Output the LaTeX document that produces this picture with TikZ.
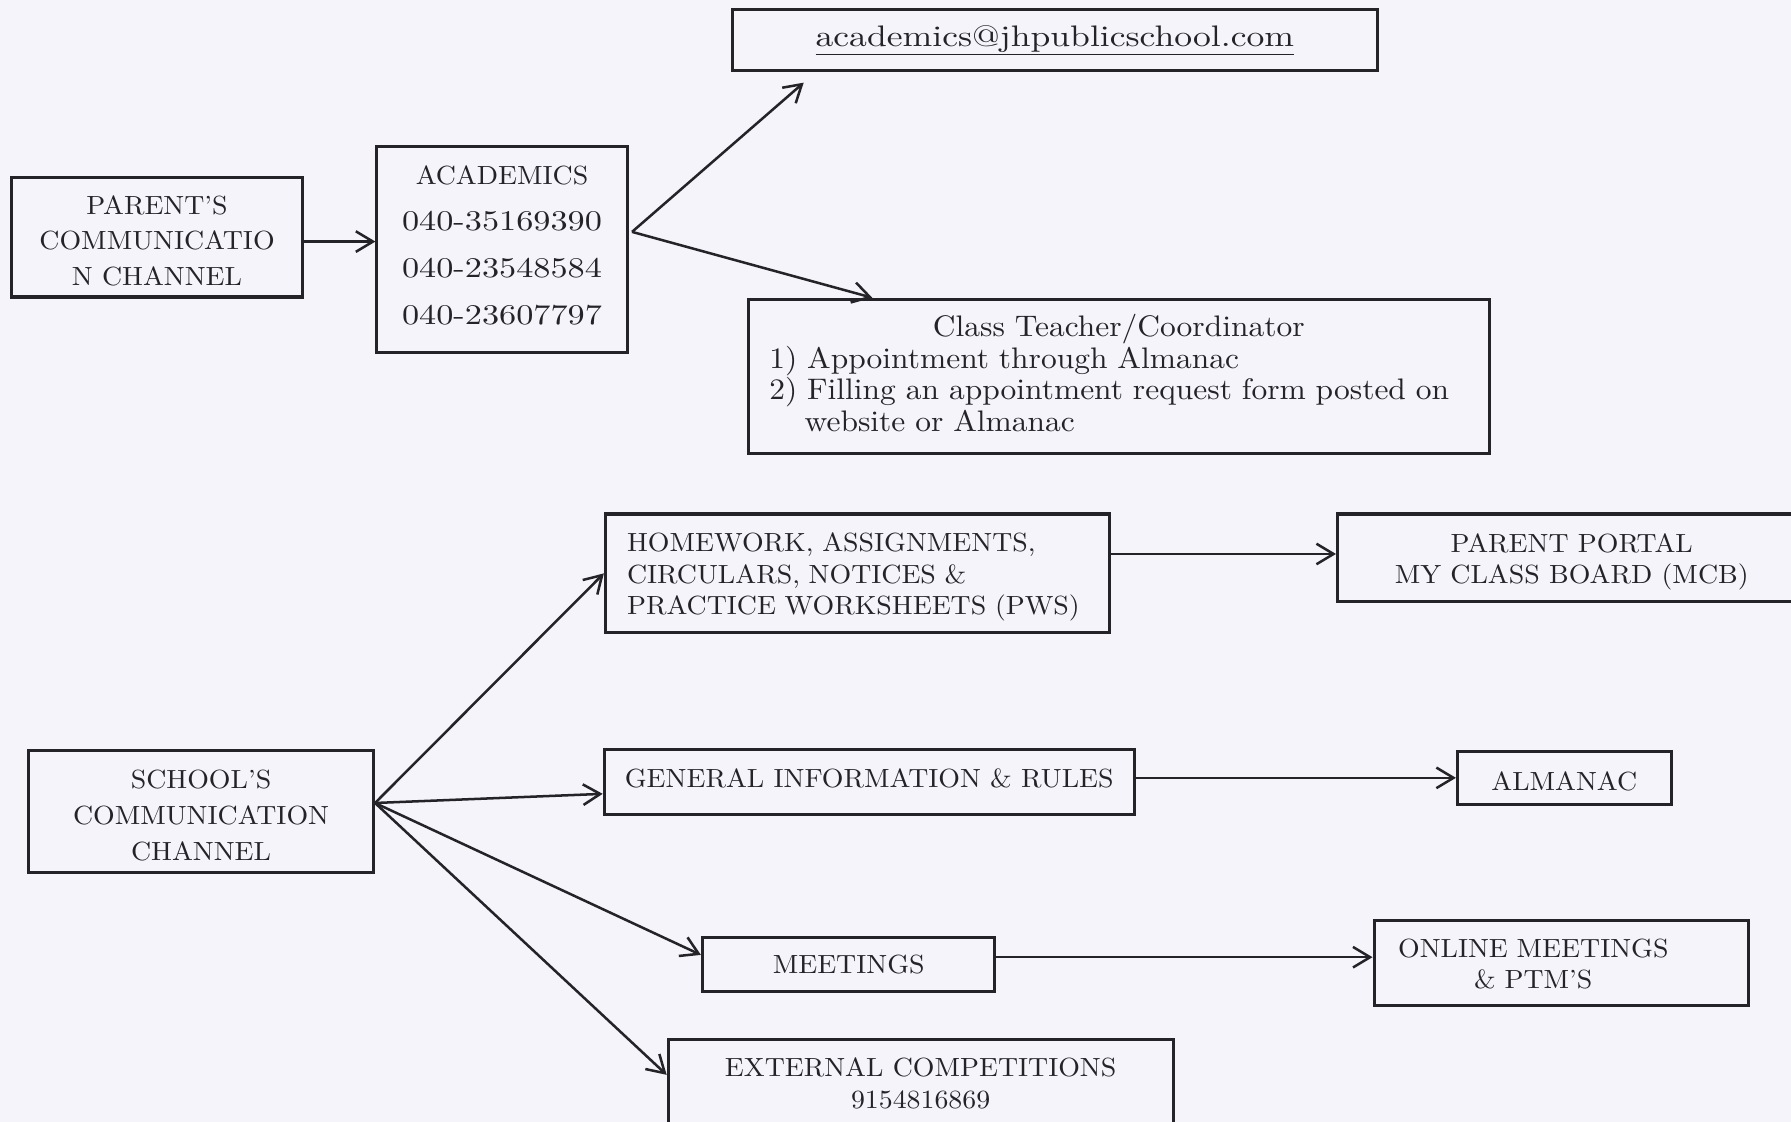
\documentclass[tikz,border=0pt]{standalone}
\usepackage{fontspec}
\setmainfont{lmroman10-regular.otf}[FakeStretch=1.06]
\newfontfamily\widefont{lmroman10-regular.otf}[FakeStretch=1.2]
\usetikzlibrary{arrows.meta,calc}
\definecolor{bg}{RGB}{244,244,250}
\definecolor{ink}{RGB}{36,36,40}
\newcommand{\dn}{\rule{0pt}{23pt}}
\newcommand{\up}[1]{\rule[-#1]{0pt}{0pt}}
\begin{document}
\begin{tikzpicture}[x=1pt,y=-1pt,
  box/.style={draw=ink, line width=2.7pt, inner sep=0pt, text=ink,
    font=\fontsize{23}{27.5}\selectfont, align=center},
  arr/.style={draw=ink, line width=2.2pt,
    -{Straight Barb[length=15pt,width=18pt,line width=2.2pt]}},
]
\fill[bg] (0,0) rectangle (1568,982);
\useasboundingbox (0,0) rectangle (1568,982);

% parent's side
\node[box, minimum width=255, minimum height=105, font=\fontsize{23}{31}\selectfont]
  (parent) at (137.5,207.5) {\dn PARENT’S\\COMMUNICATIO\\N CHANNEL};
\node[box, minimum width=219, minimum height=181, font=\fontsize{23}{41}\selectfont]
  (acad) at (439.5,218.5) {ACADEMICS\\{\widefont\fontsize{25}{41}\selectfont 040-35169390}\\{\widefont\fontsize{25}{41}\selectfont 040-23548584}\\{\widefont\fontsize{25}{41}\selectfont 040-23607797}\up{8pt}};
\node[box, minimum width=565, minimum height=54, font=\widefont\fontsize{26}{30}\selectfont]
  (email) at (923.5,35) {\underline{academics@jhpublicschool.com}};
\node[box, minimum width=649, minimum height=135, text width=612pt, align=left,
  font=\fontsize{26}{27.5}\selectfont]
  (ct) at (979.5,329.5) {\makebox[612pt]{Class Teacher/Coordinator}\\1) Appointment through Almanac\\2) Filling an appointment request form posted on\\\hspace*{31pt}website or Almanac\up{6pt}};

% school's side
\node[box, minimum width=302, minimum height=107, font=\fontsize{23}{31.5}\selectfont]
  (school) at (176,710.5) {\dn SCHOOL’S\\COMMUNICATION\\CHANNEL};
\node[box, minimum width=441, minimum height=104, text width=403pt, align=left]
  (hw) at (750.5,502) {\dn HOMEWORK, ASSIGNMENTS,\\CIRCULARS, NOTICES \&\\PRACTICE WORKSHEETS (PWS)};
\node[box, minimum width=410, minimum height=77]
  (pp) at (1376,488.5) {\dn PARENT PORTAL\\MY CLASS BOARD (MCB)};
\node[box, minimum width=464, minimum height=57]
  (gen) at (761,684.5) {GENERAL INFORMATION \& RULES\up{6pt}};
\node[box, minimum width=187, minimum height=46]
  (alm) at (1369.5,681) {\dn ALMANAC};
\node[box, minimum width=256, minimum height=47]
  (meet) at (743,844.5) {MEETINGS};
\node[box, minimum width=328, minimum height=74, text width=286pt, align=left]
  (online) at (1367,843) {\begin{tabular}{@{}c@{}}\rule{0pt}{26pt}ONLINE MEETINGS\\\& PTM’S\end{tabular}};
\node[box, minimum width=442, minimum height=77]
  (ext) at (806,948.5) {EXTERNAL COMPETITIONS\\9154816869};

% connector points
\coordinate (p1) at ($(parent.east)+(0,4)$);
\coordinate (ab) at ($(acad.east)+(3,-15.5)$);
\coordinate (emt) at ($(email.south west)+(64,9)$);
\coordinate (ctt) at ($(ct.north west)+(110,0)$);
\coordinate (h1) at ($(hw.east)+(0,-17)$);
\coordinate (sb) at ($(school.east)+(0,-7.5)$);
\coordinate (gt) at ($(gen.west)+(0,10.5)$);
\coordinate (mt) at ($(meet.west)+(0,-8.5)$);
\coordinate (et) at ($(ext.west)+(0,-7.5)$);
\coordinate (m1) at ($(meet.east)+(0,-6.5)$);

% connectors
\draw[arr] (p1) -- (p1 -| acad.west);
\draw[arr] (ab) -- (emt);
\draw[arr] (ab) -- (ctt);
\draw[arr] (h1) -- (h1 -| pp.west);
\draw[arr] (sb) -- (hw.west);
\draw[arr] (sb) -- (gt);
\draw[arr] (sb) -- (mt);
\draw[arr] (sb) -- (et);
\draw[arr] (alm.west -| gen.east) -- (alm.west);
\draw[arr] (m1) -- (m1 -| online.west);
\end{tikzpicture}
\end{document}
